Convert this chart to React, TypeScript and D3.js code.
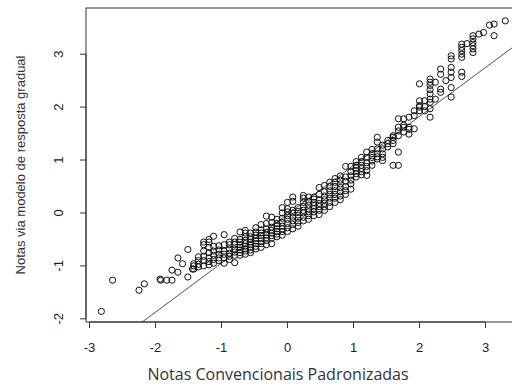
import React from "react";
import * as d3 from "d3";

// Conventional standardized scores (x columns) and IRT graded-response scores (y)
const tailPoints: [number, number][] = [
  [-2.82, -1.86], [-2.65, -1.27], [-2.25, -1.46], [-2.17, -1.34], [-1.93, -1.25], [-1.92, -1.27],
  [-1.83, -1.27], [-1.75, -1.27], [-1.75, -1.08], [-1.66, -1.12], [-1.66, -0.85], [-1.59, -0.96],
  [-1.51, -1.21], [-1.51, -0.69], [-1.44, -1.06],
];

const columnX = [
  -1.42, -1.35, -1.27, -1.19, -1.12, -1.04, -0.96, -0.88, -0.8, -0.72, -0.64, -0.56, -0.48, -0.4,
  -0.32, -0.24, -0.16, -0.08, 0.0, 0.08, 0.16, 0.24, 0.32, 0.4, 0.48, 0.56, 0.64, 0.72, 0.8, 0.88,
  0.96, 1.04, 1.12, 1.2, 1.28, 1.36, 1.44, 1.52, 1.6, 1.68, 1.76, 1.84, 1.92, 2.0, 2.08, 2.16, 2.24,
  2.32, 2.4, 2.48, 2.64, 2.72, 2.81, 2.9, 2.97, 3.06, 3.13, 3.3,
];

const columnY: number[][] = [
  [-1.06, -1.0, -0.96],
  [-1.02, -0.97, -0.9, -0.83],
  [-1.0, -0.9, -0.82, -0.72, -0.6, -0.55],
  [-0.98, -0.92, -0.85, -0.75, -0.65, -0.55, -0.5],
  [-0.95, -0.88, -0.8, -0.72, -0.63, -0.44],
  [-0.9, -0.85, -0.78, -0.7, -0.62],
  [-0.95, -0.85, -0.78, -0.72, -0.6, -0.41],
  [-0.88, -0.82, -0.76, -0.68, -0.6, -0.55],
  [-0.94, -0.8, -0.74, -0.68, -0.6, -0.55, -0.48],
  [-0.8, -0.75, -0.7, -0.65, -0.6, -0.55, -0.5, -0.36],
  [-0.78, -0.72, -0.68, -0.63, -0.58, -0.52, -0.45, -0.38, -0.33],
  [-0.75, -0.7, -0.65, -0.6, -0.55, -0.5, -0.45, -0.38],
  [-0.68, -0.63, -0.58, -0.53, -0.48, -0.42, -0.36, -0.28],
  [-0.65, -0.58, -0.53, -0.48, -0.43, -0.38, -0.32, -0.22],
  [-0.6, -0.52, -0.47, -0.42, -0.37, -0.3, -0.2, -0.06],
  [-0.58, -0.48, -0.43, -0.38, -0.33, -0.27, -0.18, -0.08],
  [-0.45, -0.4, -0.35, -0.3, -0.25, -0.2, -0.12],
  [-0.42, -0.35, -0.3, -0.25, -0.18, -0.1, 0.0, 0.1],
  [-0.35, -0.28, -0.2, -0.12, -0.05, 0.02, 0.08, 0.2],
  [-0.3, -0.22, -0.15, -0.08, 0.0, 0.05, 0.22, 0.3],
  [-0.25, -0.18, -0.1, -0.04, 0.03, 0.1],
  [-0.15, -0.08, 0.0, 0.05, 0.12, 0.2, 0.28, 0.33],
  [-0.12, -0.05, 0.02, 0.08, 0.15, 0.22, 0.3],
  [-0.05, 0.02, 0.08, 0.14, 0.2, 0.26, 0.3],
  [-0.03, 0.05, 0.12, 0.18, 0.25, 0.35, 0.48],
  [0.05, 0.12, 0.18, 0.25, 0.32, 0.4, 0.52],
  [0.12, 0.2, 0.28, 0.35, 0.42, 0.5, 0.58],
  [0.2, 0.28, 0.35, 0.42, 0.5, 0.58, 0.65],
  [0.25, 0.32, 0.4, 0.48, 0.55, 0.62, 0.7],
  [0.35, 0.42, 0.5, 0.6, 0.68, 0.88],
  [0.45, 0.55, 0.62, 0.7, 0.78, 0.88],
  [0.68, 0.74, 0.8, 0.85, 0.9, 0.97],
  [0.72, 0.78, 0.84, 0.9, 0.97, 1.05],
  [0.71, 0.8, 0.88, 0.95, 1.05, 1.15],
  [0.9, 0.98, 1.05, 1.12, 1.2],
  [1.02, 1.06, 1.12, 1.21, 1.34, 1.43],
  [0.99, 1.05, 1.12, 1.21, 1.28],
  [1.25, 1.31, 1.37],
  [0.9, 1.31, 1.37, 1.43, 1.46],
  [0.9, 1.15, 1.46, 1.55, 1.62, 1.78],
  [1.53, 1.62, 1.66, 1.78],
  [1.49, 1.58, 1.62, 1.81],
  [1.59, 1.84, 1.93],
  [1.93, 2.0, 2.03, 2.12, 2.44],
  [1.93, 2.01, 2.12],
  [1.81, 1.97, 2.09, 2.15, 2.25, 2.33, 2.41, 2.47, 2.53],
  [2.15, 2.47],
  [2.28, 2.34, 2.62, 2.72],
  [2.5],
  [2.19, 2.37, 2.56, 2.66, 2.75, 2.91, 2.97],
  [2.58, 2.66, 2.94, 3.0, 3.07, 3.13, 3.19],
  [3.2],
  [3.03, 3.1, 3.16, 3.22, 3.29, 3.35],
  [3.38],
  [3.41],
  [3.55],
  [3.35, 3.57],
  [3.63],
];

const xTicks = [-3, -2, -1, 0, 1, 2, 3];
const yTicks = [-2, -1, 0, 1, 2, 3];
const refLine = { intercept: -0.025, slope: 0.9245 };
const xTitle = "Notas Convencionais Padronizadas";
const yTitle = "Notas via modelo de resposta gradual";

export default function App() {
  const W = 512, H = 386;
  const left = 86, top = 8, right = 540, bottom = 322;
  const x = d3.scaleLinear().domain([-3, 3]).range([89.5, 485.5]);
  const y = d3.scaleLinear().domain([-2, 3]).range([318.8, 54.2]);

  const points: [number, number][] = [...tailPoints];
  columnX.forEach((cx, i) => columnY[i].forEach((cy) => points.push([cx, cy])));

  const lineGen = d3.line<number>()
    .x((d) => x(d))
    .y((d) => y(refLine.intercept + refLine.slope * d));
  const xs = [x.invert(left), x.invert(right)];

  const axisColor = "#333";
  const font = "Liberation Sans, Arial, sans-serif";

  return (
    <svg width={W} height={H} style={{ position: "absolute", left: 0, top: 0, background: "#fff" }}>
      <defs>
        <clipPath id="plotClip">
          <rect x={left} y={top} width={right - left} height={bottom - top} />
        </clipPath>
      </defs>
      <rect x={left} y={top} width={right - left} height={bottom - top} fill="none" stroke={axisColor} strokeWidth={1} />
      <g clipPath="url(#plotClip)">
        <path d={lineGen(xs) || ""} fill="none" stroke="#222" strokeWidth={0.8} />
        {points.map((p, i) => (
          <circle key={i} cx={x(p[0])} cy={y(p[1])} r={3.1} fill="none" stroke="#111" strokeWidth={1} />
        ))}
      </g>
      {/* x axis */}
      <g>
        <line x1={x(-3)} x2={x(3)} y1={bottom} y2={bottom} stroke={axisColor} />
        {xTicks.map((t) => (
          <g key={t}>
            <line x1={x(t)} x2={x(t)} y1={bottom} y2={bottom + 6} stroke={axisColor} />
            <text x={x(t)} y={352} textAnchor="middle" fontFamily={font} fontSize={13} fill="#222">
              {t}
            </text>
          </g>
        ))}
      </g>
      {/* y axis */}
      <g>
        <line x1={left} x2={left} y1={y(-2)} y2={y(3)} stroke={axisColor} />
        {yTicks.map((t) => (
          <g key={t}>
            <line x1={left - 6} x2={left} y1={y(t)} y2={y(t)} stroke={axisColor} />
            <text
              transform={`translate(63, ${y(t)}) rotate(-90)`}
              textAnchor="middle"
              fontFamily={font}
              fontSize={13}
              fill="#222"
            >
              {t}
            </text>
          </g>
        ))}
      </g>
      <text x={278} y={380} textAnchor="middle" fontFamily="Open Sans, Noto Sans, sans-serif" fontSize={16} fill="#333">
        {xTitle}
      </text>
      <text
        transform={`translate(25, 165) rotate(-90)`}
        textAnchor="middle"
        fontFamily={font}
        fontSize={13}
        fill="#333"
      >
        {yTitle}
      </text>
    </svg>
  );
}
